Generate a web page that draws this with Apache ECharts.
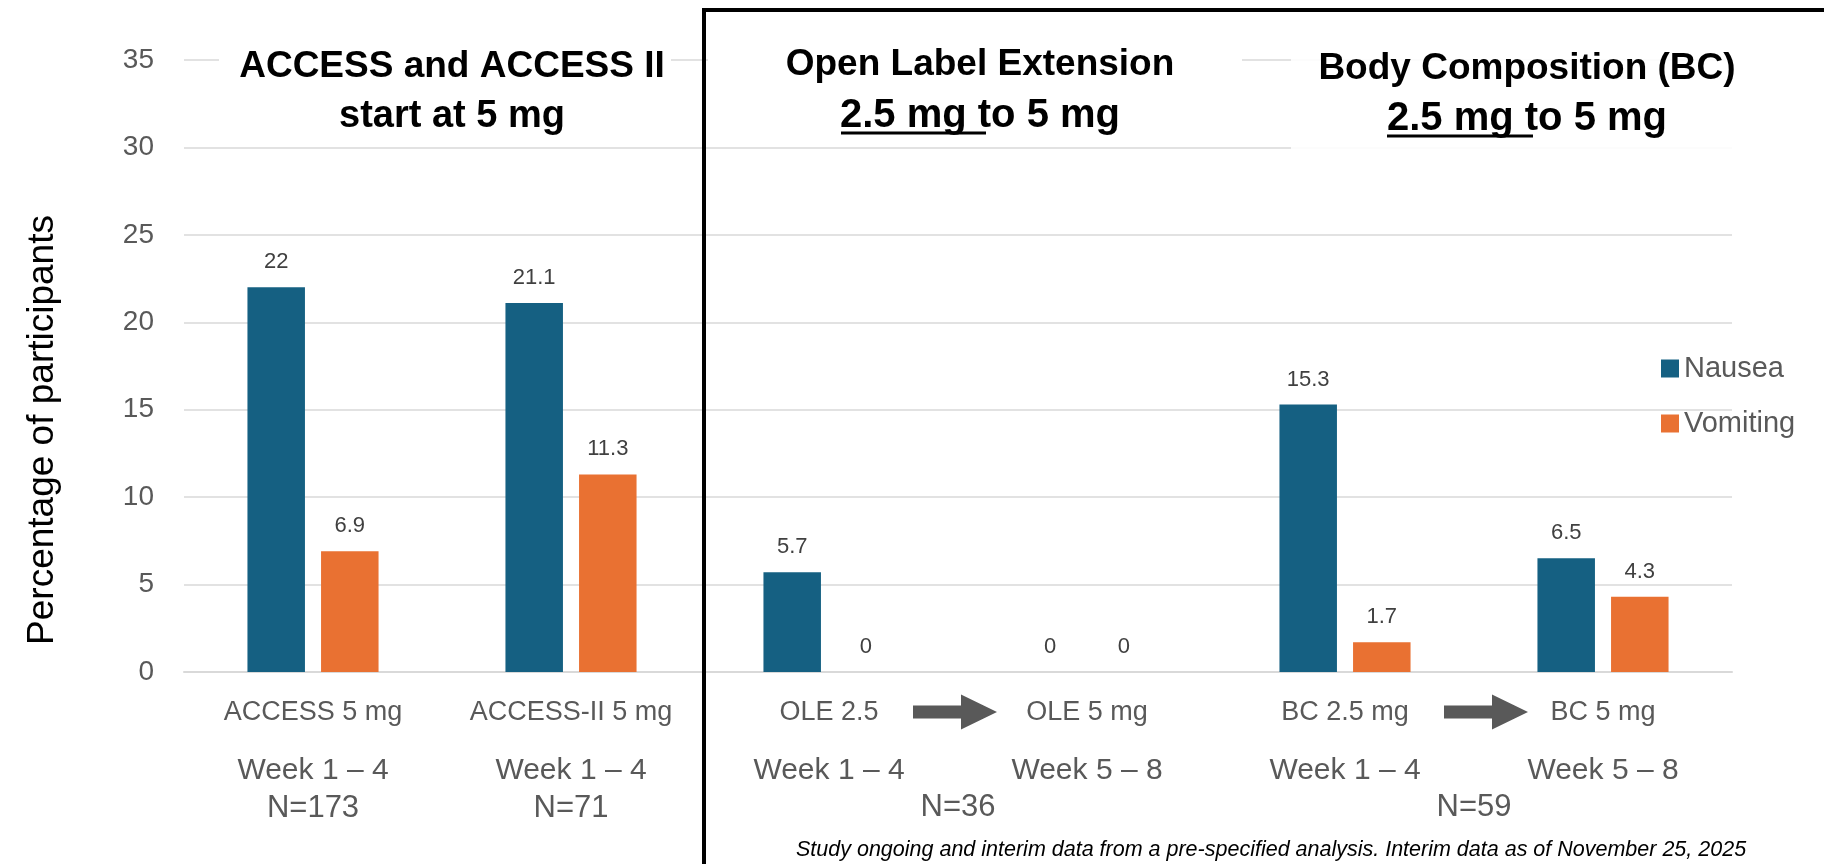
<!DOCTYPE html>
<html><head><meta charset="utf-8">
<script src="https://cdn.jsdelivr.net/npm/echarts@6/dist/echarts.min.js"></script>
<style>html,body{margin:0;padding:0;background:#fff}#c{width:1824px;height:864px}</style>
</head><body><div id="c"></div>
<script>
// ---- data ----
const categories = ['ACCESS 5 mg', 'ACCESS-II 5 mg', 'OLE 2.5', 'OLE 5 mg', 'BC 2.5 mg', 'BC 5 mg'];
const weekLabels = ['Week 1 – 4', 'Week 1 – 4', 'Week 1 – 4', 'Week 5 – 8', 'Week 1 – 4', 'Week 5 – 8'];
const nLabels = ['N=173', 'N=71', '', '', '', ''];
const nausea = [22, 21.1, 5.7, 0, 15.3, 6.5];
const vomiting = [6.9, 11.3, 0, 0, 1.7, 4.3];
const groupN = [{ from: 'OLE 2.5', to: 'OLE 5 mg', text: 'N=36' }, { from: 'BC 2.5 mg', to: 'BC 5 mg', text: 'N=59' }];
const arrowsBetween = [['OLE 2.5', 'OLE 5 mg'], ['BC 2.5 mg', 'BC 5 mg']];
const yTicks = { min: 0, max: 35, interval: 5 };
const yAxisTitle = 'Percentage of participants';
const panelTitles = [
  { l1: 'ACCESS and ACCESS II', l2: 'start at 5 mg' },
  { l1: 'Open Label Extension', l2: '2.5 mg to 5 mg' },
  { l1: 'Body Composition (BC)', l2: '2.5 mg to 5 mg' }
];
const footnote = 'Study ongoing and interim data from a pre-specified analysis. Interim data as of November 25, 2025';

const FF = '"Liberation Sans", Arial, sans-serif';
const GREY = '#595959';
const chart = echarts.init(document.getElementById('c'));

chart.setOption({
  animation: false,
  backgroundColor: '#fff',
  textStyle: { fontFamily: FF },
  grid: { left: 184, right: 92, top: 60, bottom: 192 },
  legend: {
    data: ['Nausea', 'Vomiting'], orient: 'vertical', left: 1661, top: 354, padding: 0,
    icon: 'rect', itemWidth: 18, itemHeight: 18, itemGap: 26,
    textStyle: { fontSize: 29, color: GREY, lineHeight: 28, fontFamily: FF }
  },
  xAxis: {
    type: 'category', data: categories,
    axisLine: { lineStyle: { color: '#d9d9d9', width: 2 } },
    axisTick: { show: false },
    axisLabel: {
      interval: 0, margin: 11,
      formatter: function (v, i) {
        return '{a|' + v + '}\n{b|' + weekLabels[i] + '}\n{c|' + (nLabels[i] || ' ') + '}';
      },
      rich: {
        a: { fontSize: 27, color: GREY, lineHeight: 60, fontFamily: FF },
        b: { fontSize: 30, color: GREY, lineHeight: 56, fontFamily: FF },
        c: { fontSize: 31, color: GREY, lineHeight: 18, fontFamily: FF }
      }
    }
  },
  yAxis: {
    type: 'value', min: yTicks.min, max: yTicks.max, interval: yTicks.interval,
    axisLine: { show: false }, axisTick: { show: false },
    axisLabel: { fontSize: 28, color: GREY, margin: 30, fontFamily: FF },
    splitLine: { lineStyle: { color: '#d9d9d9', width: 1.5 } }
  },
  series: [
    { name: 'Nausea', type: 'bar', data: nausea, barWidth: 57.5, barGap: '28%',
      itemStyle: { color: '#156082' },
      label: { show: true, position: 'top', distance: 14, fontSize: 22, color: '#404040', fontFamily: FF } },
    { name: 'Vomiting', type: 'bar', data: vomiting, barWidth: 57.5, barGap: '28%',
      itemStyle: { color: '#E97132' },
      label: { show: true, position: 'top', distance: 14, fontSize: 22, color: '#404040', fontFamily: FF } }
  ]
});

function cx(cat) { return chart.convertToPixel({ xAxisIndex: 0 }, cat); }
const axisY = chart.convertToPixel({ yAxisIndex: 0 }, 0);

const g = [];
// y-axis title
g.push({ type: 'text', z: 5, x: 43, y: 430, rotation: Math.PI / 2,
  style: { text: yAxisTitle, x: 0, y: 0, font: '37px ' + FF, fill: '#000', align: 'center', verticalAlign: 'middle' } });
// white boxes behind titles (hide gridlines)
g.push({ type: 'rect', z: 1, shape: { x: 219, y: 30, width: 452, height: 108 }, style: { fill: '#fff' } });
g.push({ type: 'rect', z: 1, shape: { x: 708, y: 30, width: 534, height: 108 }, style: { fill: '#fff' } });
g.push({ type: 'rect', z: 1, shape: { x: 1291, y: 30, width: 460, height: 122 }, style: { fill: 'rgba(255,255,255,0.88)' } });

const titlePos = [
  { x: 452, y1: 67, y2: 117, f2: 38 },
  { x: 980, y1: 65, y2: 116, f2: 40 },
  { x: 1527, y1: 69, y2: 119, f2: 40 }
];
panelTitles.forEach(function (t, i) {
  const p = titlePos[i];
  g.push({ type: 'text', z: 5, style: { text: t.l1, x: p.x, y: p.y1, font: 'bold 37px ' + FF, fill: '#000', align: 'center', verticalAlign: 'middle' } });
  g.push({ type: 'text', z: 5, style: { text: t.l2, x: p.x, y: p.y2, font: 'bold ' + p.f2 + 'px ' + FF, fill: '#000', align: 'center', verticalAlign: 'middle' } });
});
// underlines under "2.5 mg"
g.push({ type: 'line', z: 5, shape: { x1: 841, y1: 133, x2: 986, y2: 133 }, style: { stroke: '#000', lineWidth: 3 } });
g.push({ type: 'line', z: 5, shape: { x1: 1387, y1: 136, x2: 1533, y2: 136 }, style: { stroke: '#000', lineWidth: 3 } });

// arrows between categories
const arrowShift = [-3, 12];
arrowsBetween.forEach(function (pair, k) {
  const m = (cx(pair[0]) + cx(pair[1])) / 2 + arrowShift[k];
  const y = axisY + 40;
  g.push({ type: 'polygon', z: 5, shape: { points: [
    [m - 42, y - 6.5], [m + 6, y - 6.5], [m + 6, y - 17.5], [m + 42, y], [m + 6, y + 17.5], [m + 6, y + 6.5], [m - 42, y + 6.5]
  ] }, style: { fill: GREY } });
});
// group N labels
groupN.forEach(function (gn) {
  const m = (cx(gn.from) + cx(gn.to)) / 2;
  g.push({ type: 'text', z: 5, style: { text: gn.text, x: m, y: 807, font: '31px ' + FF, fill: GREY, align: 'center', verticalAlign: 'middle' } });
});
// footnote
g.push({ type: 'text', z: 5, style: { text: footnote, x: 796, y: 850, font: 'italic 21.5px ' + FF, fill: '#000', align: 'left', verticalAlign: 'middle' } });
// black panel border
g.push({ type: 'rect', z: 6, shape: { x: 704, y: 10, width: 1200, height: 900 }, style: { fill: 'none', stroke: '#000', lineWidth: 4 } });

chart.setOption({ graphic: g });
</script>
</body></html>
